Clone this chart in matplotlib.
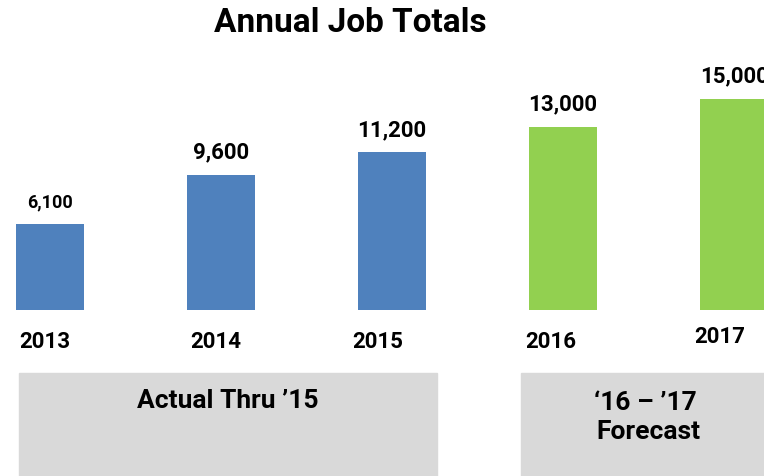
import matplotlib
matplotlib.use("Agg")
import matplotlib.pyplot as plt
from matplotlib.patches import Rectangle

plt.rcParams['font.family'] = ['Roboto', 'DejaVu Sans']
plt.rcParams['font.weight'] = 'bold'

# ── Data ──────────────────────────────────────────────────────────────────────
years = ['2013', '2014', '2015', '2016', '2017']
jobs = [6100, 9600, 11200, 13000, 15000]
value_labels = ['6,100', '9,600', '11,200', '13,000', '15,000']
label_sizes = [13, 16, 16, 16, 16]
# year label offsets from bar centre (points)
year_dx = [-4, -4, -10, -9, -10]
year_dy = [-22, -22, -22, -22, -19]
colors = ['#4f81bd', '#4f81bd', '#4f81bd', '#92d050', '#92d050']

W, H = 764, 477
fig = plt.figure(figsize=(W / 100, H / 100), dpi=100)
ax = fig.add_axes([0, 166 / H, 1, 311 / H])

x = list(range(len(years)))
ax.bar(x, jobs, width=0.4, color=colors)
ax.set_xlim(-50 / 171, (W - 50) / 171)
ax.set_ylim(0, 22060)
ax.axis('off')

for xi, v, lab, fs in zip(x, jobs, value_labels, label_sizes):
    ax.annotate(lab, (xi, v), xytext=(0, 16.5), textcoords='offset points',
                ha='center', va='center', fontsize=fs, fontweight='bold',
                annotation_clip=False)

for xi, yr, dx, dy in zip(x, years, year_dx, year_dy):
    ax.annotate(yr, (xi, 0), xytext=(dx, dy), textcoords='offset points',
                ha='center', va='center', fontsize=16, fontweight='bold',
                annotation_clip=False)

fig.text(350 / W, 1 - 23 / H, 'Annual Job Totals', ha='center', va='center',
         fontsize=24, fontweight='bold')

# ── Gray boxes ────────────────────────────────────────────────────────────────
fig.patches.append(Rectangle((19 / W, 0), (437 - 19) / W, (H - 374) / H,
                             transform=fig.transFigure, color='#d9d9d9', zorder=0))
fig.patches.append(Rectangle((521 / W, 0), (W - 521) / W, (H - 374) / H,
                             transform=fig.transFigure, color='#d9d9d9', zorder=0))
fig.text(228 / W, 1 - 401 / H, 'Actual Thru ’15', ha='center', va='center',
         fontsize=19, fontweight='bold')
fig.text(645 / W, 1 - 403 / H, '‘16 – ’17', ha='center', va='center',
         fontsize=19, fontweight='bold')
fig.text(648 / W, 1 - 432 / H, 'Forecast', ha='center', va='center',
         fontsize=19, fontweight='bold')

fig.savefig('out.png', dpi=100)
